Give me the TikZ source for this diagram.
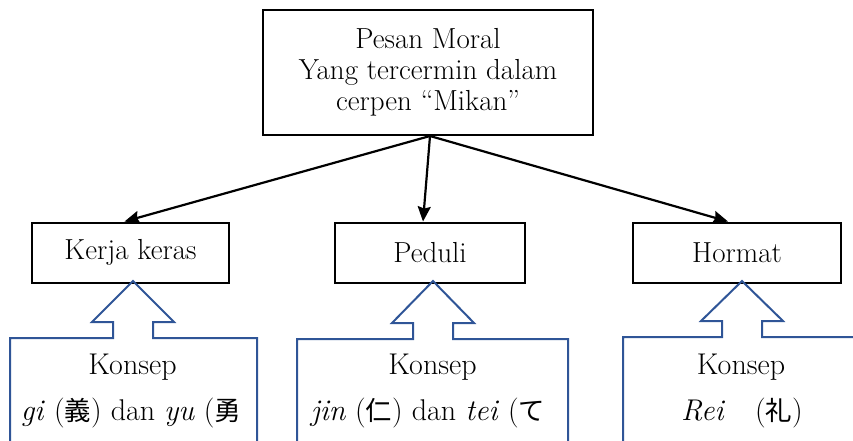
\documentclass[tikz,border=0pt]{standalone}
\usepackage{fontspec}
\newfontfamily\cjk[Scale=0.88]{Noto Sans CJK JP}
\usetikzlibrary{arrows.meta,positioning}
\definecolor{calloutblue}{RGB}{47,85,151}
\tikzset{
  box/.style={draw, line width=2pt, align=center, inner sep=0pt},
  link/.style={-{Stealth[length=15pt,width=13pt,inset=2pt]}, line width=2.2pt},
  callout/.style={draw=calloutblue, line width=2pt, line join=miter},
  konsep/.style={font=\fontsize{30}{31}\selectfont}
}

\begin{document}
\begin{tikzpicture}[x=1pt, y=-1pt, font=\fontsize{29}{31}\selectfont]
	\useasboundingbox (0,0) rectangle (853,440);
	% main box
	\node[box, minimum width=330pt, minimum height=125pt] (moral) at (428,72.5) {Pesan Moral\\Yang tercermin dalam\\cerpen “Mikan”};
	% values
	\node[box, minimum width=197pt, minimum height=60pt] (kerja) at (130.5,252.5) {Kerja keras};
	\node[box, minimum width=190pt, minimum height=60pt] (peduli) at (430,252.5) {Peduli};
	\node[box, minimum width=208pt, minimum height=60pt] (hormat) at (737,252.5) {Hormat};
	\draw[link] ([xshift=2pt]moral.south) -- ([xshift=-6pt]kerja.north);
	\draw[link] ([xshift=2pt]moral.south) -- ([xshift=-7pt]peduli.north);
	\draw[link] ([xshift=2pt]moral.south) -- ([xshift=-9pt]hormat.north);
	% callouts
	\begin{scope}
		\clip (0,0) rectangle (853,440);
		\foreach \tx/\bl/\br/\by in {133/10/257/338, 433/297/568/339, 742/623/880/337}
			\draw[callout] (\bl,450) -- (\bl,\by) -- (\tx-20,\by) -- (\tx-20,\by-16) -- (\tx-41,\by-16)
				-- (\tx,281) -- (\tx+41,\by-16) -- (\tx+20,\by-16) -- (\tx+20,\by) -- (\br,\by) -- (\br,450);
	\end{scope}
	\node[konsep] (konsepa) at (132.5,367) {Konsep};
	\node[konsep] (gi) at (131,413) {\textit{gi} ({\cjk 義}) dan \textit{yu} ({\cjk 勇}};
	\node[konsep] (konsepb) at (432.5,367) {Konsep};
	\node[konsep] (jin) at (428,413) {\textit{jin} ({\cjk 仁}) dan \textit{tei} ({\cjk て}};
	\node[konsep] (konsepc) at (741,367) {Konsep};
	\node[konsep] (rei) at (742,413) {\textit{Rei}\quad({\cjk 礼})};
\end{tikzpicture}
\end{document}
